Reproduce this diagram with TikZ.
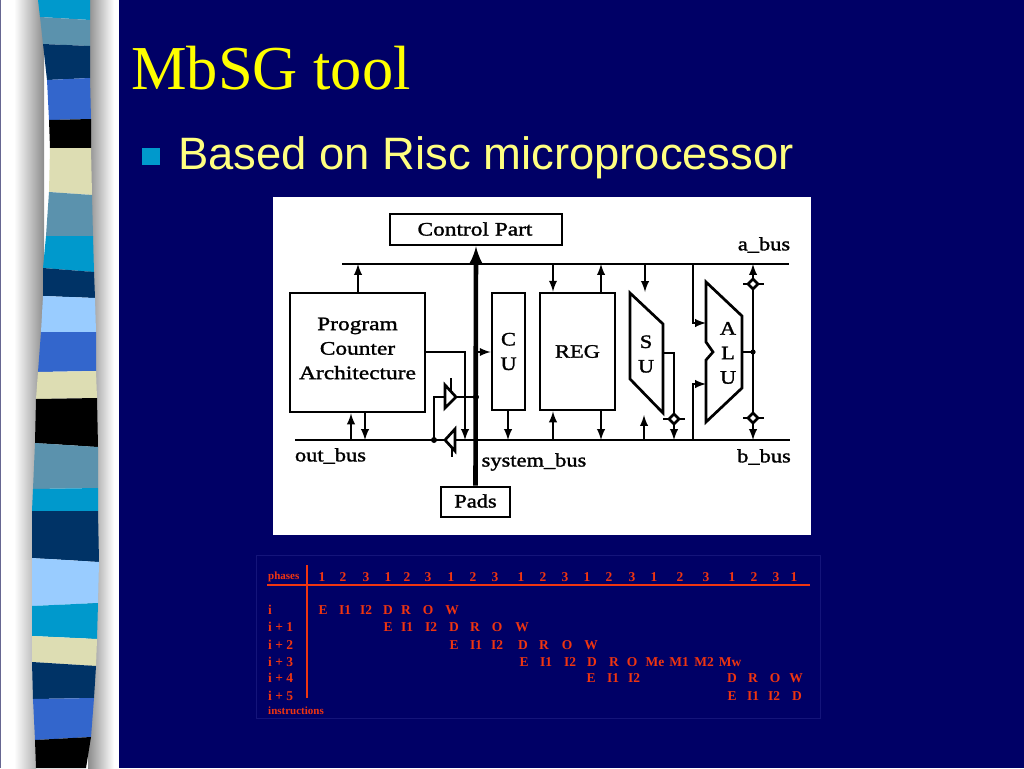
\documentclass[tikz,border=0pt]{standalone}
\usepackage{fontspec}
\setmainfont{Liberation Serif}
\newfontfamily\bulletfont{Liberation Sans}
\newfontfamily\blockfont[FakeStretch=1.18,FakeBold=1.5]{Liberation Serif}
\newfontfamily\wideblockfont[FakeStretch=1.23,FakeBold=1.5]{Liberation Serif}
\definecolor{slidebg}{HTML}{000066}
\definecolor{titlecol}{HTML}{FFFF00}
\definecolor{textcol}{HTML}{FFFF80}
\definecolor{bulletcol}{HTML}{0099CC}
\definecolor{tabcol}{HTML}{F03510}
\definecolor{tabedge}{HTML}{14147A}
\definecolor{cy}{HTML}{0099CC}
\definecolor{st}{HTML}{5B92AD}
\definecolor{nv}{HTML}{003366}
\definecolor{ry}{HTML}{3366CC}
\definecolor{bk}{HTML}{000000}
\definecolor{cr}{HTML}{DDDDB3}
\definecolor{lb}{HTML}{99CCFF}
\tikzset{
  blk/.style={draw, fill=white, line width=2.7pt, inner sep=0pt, align=center,
    font=\blockfont\fontsize{19}{24.5}\selectfont},
  lbl/.style={inner sep=0pt, align=center, font=\blockfont\fontsize{19}{24.5}\selectfont},
  wide/.style={font=\wideblockfont\fontsize{19}{24.5}\selectfont},
  wire/.style={line width=2.7pt},
  arr/.style={wire, ->},
  tcell/.style={inner sep=0pt, text=tabcol, font=\bfseries\fontsize{13.5}{14}\selectfont},
  tlab/.style={tcell, anchor=west},
  tsmall/.style={tlab, font=\bfseries\fontsize{11}{12}\selectfont},
  gate/.style={draw=black, fill=white, line width=2.7pt, line join=miter},
}
\begin{document}
\begin{tikzpicture}[>=latex, x=1pt, y=-1pt]
\useasboundingbox (0,0) rectangle (1024,768);
\fill[slidebg] (0,0) rectangle (1024,768);
% left strip
\fill[white] (0,0) rectangle (119,768);
\shade[left color=white, right color=black!45] (14,0) rectangle (44,560);
\shade[left color=white, right color=black!30] (14,560) rectangle (36,768);
\shade[left color=black!45, right color=white] (88,0) rectangle (114,768);
\fill[black!30!slidebg!60!white] (0,0) rectangle (1,768);
\foreach \xa/\ya/\xb/\yb/\xc/\yc/\xd/\yd/\c in {
  38/0/90/0/40/17/90/20/cy, 40/17/90/20/43/44/90/46/st,
  43/44/90/46/47/80/90/78/nv, 47/80/90/78/49/120/91/119/ry,
  49/120/91/119/50/148/91/148/bk, 50/148/91/148/49/192/92/195/cr,
  49/192/92/195/46/236/93/236/st, 46/236/93/236/43/268/94/272/cy,
  43/268/94/272/43/296/95/298/nv, 43/296/95/298/41/332/96/332/lb,
  41/332/96/332/38/372/96/371/ry, 38/372/96/371/36/399/97/398/cr,
  36/399/97/398/35/443/98/447/bk, 35/443/98/447/33/489/98/488/st,
  33/489/98/488/32/511/98/511/cy, 32/511/98/511/32/558/99/562/nv,
  32/558/99/562/32/606/98/603/lb, 32/606/98/603/32/636/97/639/cy,
  32/636/97/639/32/662/96/666/cr, 32/662/96/666/33/699/94/698/nv,
  33/699/94/698/35/740/91/737/ry, 35/740/91/737/36/768/86/768/bk}
  \fill[\c] (\xa,\ya) -- (\xb,\yb) -- (\xd,\yd) -- (\xc,\yc) -- cycle;
% title
\node[anchor=base west, inner sep=0pt, text=titlecol, font=\fontsize{62.5}{63}\selectfont] (title) at (131,89) {MbSG tool};
\fill[bulletcol] (142,148) rectangle (160,165);
\node[anchor=base west, inner sep=0pt, text=textcol, font=\bulletfont\fontsize{45.4}{46}\selectfont] (sub) at (178,169) {Based on Risc microprocessor};
% block diagram
\fill[white] (273,197) rectangle (811,535);
\coordinate (aL) at (342,264);
\coordinate (aR) at (789,264);
\coordinate (bL) at (295,440);
\coordinate (bR) at (790,440);
\draw[wire] (aL)--(aR);
\draw[wire] (bL)--(bR);
\node[blk, minimum width=172pt, minimum height=31pt] (ctrl) at (476,229.5) {};
\node[lbl, wide] (ctrltext) at (475,229) {Control Part};
\node[blk, minimum width=135pt, minimum height=119pt] (pc) at (357.5,352.5) {};
\node[lbl, wide] (pctext) at (357.5,348.5) {Program\\Counter\\Architecture};
\node[blk, minimum width=33pt, minimum height=117pt] (cu) at (508.5,351.5) {C\\U};
\node[blk, minimum width=75pt, minimum height=117pt] (reg) at (577.5,351.5) {REG};
\node[blk, minimum width=69pt, minimum height=30pt] (pads) at (475.5,502) {};
\node[lbl] (padstext) at (475.5,501) {Pads};
% system bus
\draw[line width=4.6pt, ->] (pads.north) -- (ctrl.south);
% program counter
\draw[arr] ([xshift=.5pt]pc.north) -- ([xshift=.5pt]pc.north |- aL);
\draw[arr] ([xshift=-6.5pt]pc.south |- bL) -- ([xshift=-6.5pt]pc.south);
\draw[arr] ([xshift=7.5pt]pc.south) -- ([xshift=7.5pt]pc.south |- bL);
\coordinate (pcout) at (465,352);
\coordinate (sysbus) at (pads.north |- pcout);
\draw[arr] (pc.east |- pcout) -- (pcout) -- (pcout |- bL);
\draw[arr] (sysbus) -- (cu.west |- pcout);
% buffers
\coordinate (up) at (476,397);
\coordinate (dn) at (434,440);
\draw[wire] (up) -- (dn |- up) -- (dn);
\draw[wire] (451,378) -- (451,391);
\draw[gate] (445,385) -- (456,397) -- (445,408) -- cycle;
\draw[wire] (452,445) -- (452,457);
\draw[gate] (455,429) -- (445,440) -- (455,451) -- cycle;
\fill (up) circle (3);
\fill (dn) circle (3);
% cu and reg
\draw[arr] ([xshift=-.5pt]cu.south) -- ([xshift=-.5pt]cu.south |- bL);
\draw[arr] ([xshift=-24.5pt]reg.north |- aL) -- ([xshift=-24.5pt]reg.north);
\draw[arr] ([xshift=23.5pt]reg.north) -- ([xshift=23.5pt]reg.north |- aL);
\draw[arr] ([xshift=-24.5pt]reg.south |- bL) -- ([xshift=-24.5pt]reg.south);
\draw[arr] ([xshift=23.5pt]reg.south) -- ([xshift=23.5pt]reg.south |- bL);
% shift unit
\draw[wire, line join=miter] (630,293) -- (663,324) -- (663,413) -- (630,379) -- cycle;
\node[lbl] (su) at (646,354) {S\\U};
\coordinate (sutop) at (645,292);
\coordinate (subot) at (644,415);
\coordinate (suout) at (663,353);
\coordinate (suright) at (674,353);
\draw[arr] (sutop |- aL) -- (sutop);
\draw[arr] (subot |- bL) -- (subot);
\draw[arr] (suout) -- (suright) -- (suright |- bL);
\draw[wire] (663,419) -- (685,419);
\draw[wire, fill=white] (674,414) -- (679,419) -- (674,424) -- (669,419) -- cycle;
% alu
\draw[wire, line join=miter] (706,282) -- (742,316) -- (742,388) -- (706,422) -- (706,360) -- (713,352) -- (706,342) -- cycle;
\node[lbl] (alu) at (728,353) {A\\L\\U};
\coordinate (alua) at (706,323);
\coordinate (alub) at (706,384);
\coordinate (tapa) at (693,323);
\coordinate (tapb) at (693,384);
\coordinate (aluout) at (742,352);
\coordinate (alunode) at (753,352);
\draw[arr] (tapa |- aL) -- (tapa) -- (alua);
\draw[arr] (tapb |- bL) -- (tapb) -- (alub);
\draw[wire] (aluout) -- (alunode);
\fill (alunode) circle (2.6);
\draw[arr] (alunode) -- (alunode |- aL);
\draw[arr] (alunode) -- (alunode |- bL);
\foreach \y in {284,418} {
  \draw[wire] (743,\y) -- (764,\y);
  \draw[wire, fill=white] (753,\y-5) -- (758,\y) -- (753,\y+5) -- (748,\y) -- cycle;
}
% labels
\node[lbl] (abus) at (764,245) {a\_bus};
\node[lbl] (bbus) at (764,457) {b\_bus};
\node[lbl] (obus) at (330.5,456) {out\_bus};
\node[lbl] (sbus) at (534,462) {system\_bus};
% table
\draw[tabedge] (256.5,555) rectangle (820,718);
\draw[tabcol, line width=1.2pt] (267,585) -- (810,585);
\draw[tabcol, line width=1.2pt] (307,565) -- (307,698);
\node[tsmall] (phases) at (268,577) {phases};
\node[tsmall] (instr) at (268,711) {instructions};
\node[tlab] (ri) at (268,610) {i};
\node[tlab] (ri1) at (268,627) {i + 1};
\node[tlab] (ri2) at (268,645) {i + 2};
\node[tlab] (ri3) at (268,662) {i + 3};
\node[tlab] (ri4) at (268,678) {i + 4};
\node[tlab] (ri5) at (268,696) {i + 5};
\foreach \x/\t [count=\n] in {322/1,343/2,366/3,388/1,407/2,428/3,451/1,473/2,495/3,521/1,543/2,565/3,587/1,609/2,632/3,654/1,680/2,706/3,732/1,754/2,776/3,794/1}
  \node[tcell] (ph\n) at (\x,577) {\t};
\foreach \x/\t [count=\n] in {323/E,345/I1,366/I2,388/D,406/R,428/O,452/W}
  \node[tcell] (a\n) at (\x,610) {\t};
\foreach \x/\t [count=\n] in {388/E,407/I1,431/I2,454/D,475/R,497/O,522/W}
  \node[tcell] (b\n) at (\x,627) {\t};
\foreach \x/\t [count=\n] in {454/E,476/I1,497/I2,523/D,544/R,567/O,591/W}
  \node[tcell] (c\n) at (\x,645) {\t};
\foreach \x/\t [count=\n] in {524/E,546/I1,570/I2,592/D,614/R,632/O,655/Me,679/M1,704/M2,730/Mw}
  \node[tcell] (d\n) at (\x,662) {\t};
\foreach \x/\t [count=\n] in {591/E,613/I1,634/I2,732/D,753/R,775/O,796/W}
  \node[tcell] (e\n) at (\x,678) {\t};
\foreach \x/\t [count=\n] in {732/E,753/I1,774/I2,797/D}
  \node[tcell] (f\n) at (\x,696) {\t};
\end{tikzpicture}
\end{document}
